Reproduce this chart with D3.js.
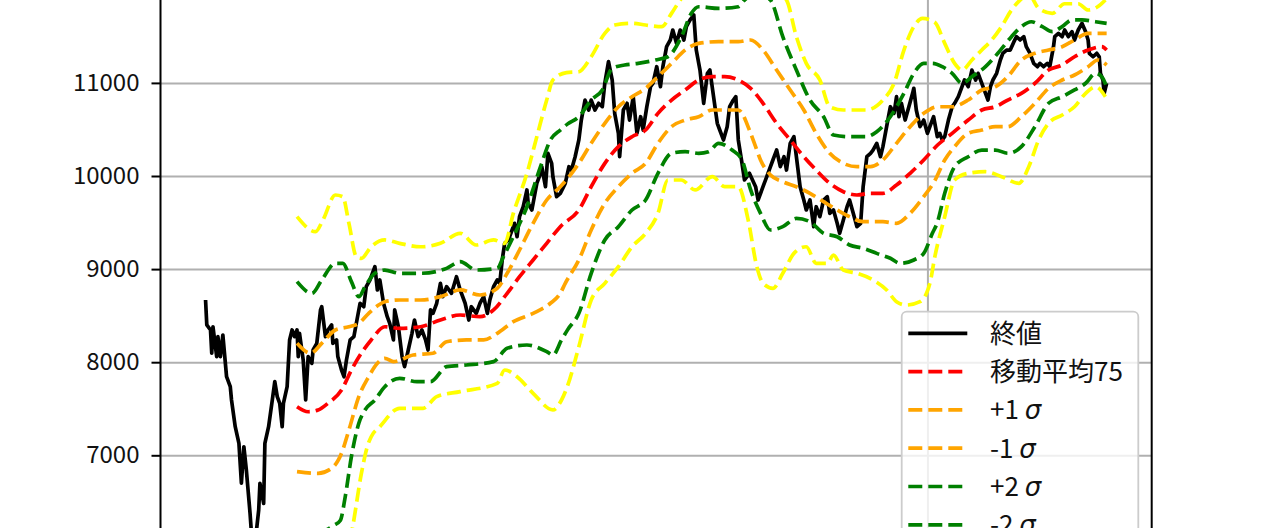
<!DOCTYPE html>
<html>
<head>
<meta charset="utf-8">
<script src="https://cdn.jsdelivr.net/npm/d3@7"></script>
<style>
  html, body { margin: 0; padding: 0; background: #ffffff; }
  svg { display: block; }
</style>
</head>
<body>
<script>
// ---------------- DATA (trading-day index, value) ----------------
const closeData = [
[0,8668],[1,8400],[4,8346],[5,8096],[6,8381],[9,8060],[10,8274],[12,8060],[14,8292],[17,7844],[20,7737],[21,7594],[24,7307],[27,7129],[29,6700],[31,7092],[33,6842],[36,6377],[38,6000],[40,6050],[43,6412],[44,6700],[47,6484],[48,7129],[51,7307],[54,7594],[56,7791],[58,7630],[60,7558],[62,7307],[63,7558],[66,7737],[68,8239],[70,8346],[72,8274],[74,8346],[75,8060],[76,8310],[79,8024],[81,7594],[83,8060],[86,7988],[87,8131],[90,8203],[93,8561],[94,8596],[97,8274],[99,8346],[102,8400],[103,8203],[106,8239],[107,8060],[110,7916],[112,7844],[114,8024],[117,8239],[120,8274],[122,8418],[125,8633],[128,8596],[130,8811],[133,8883],[134,8918],[137,9026],[139,8776],[141,8883],[144,8633],
[147,8489],[149,8418],[152,8239],[153,8561],[156,8381],[159,8060],[161,7952],[164,8131],[167,8310],[169,8453],[172,8274],[175,8346],[178,8239],[180,8131],[182,8561],[184,8525],[187,8633],[190,8847],[192,8704],[195,8811],[199,8740],[203,8918],[206,8776],[210,8633],[213,8453],[215,8596],[219,8525],[222,8633],[225,8704],[228,8525],[230,8668],[233,8811],[236,8883],[238,8847],[240,9098],[242,9277],[245,9313],[248,9420],[250,9492],[252,9348],[254,9563],[257,9670],[260,9850],[261,9707],[264,9635],[267,9850],[268,9921],[271,10029],[272,10100],[275,9885],[277,10244],[280,10136],[281,9993],[284,9778],[287,9814],[291,9921],[294,10100],
[296,10064],[299,10207],[302,10387],[304,10601],[307,10816],[310,10709],[312,10816],[315,10709],[318,10781],[321,10745],[323,10996],[326,11228],[329,11031],[331,10673],[334,10458],[335,10207],[338,10709],[341,10781],[343,10601],[346,10852],[349,10458],[352,10637],[354,10494],[357,10745],[360,10959],[362,10996],[365,11174],[368,10959],[370,11174],[373,11389],[376,11461],[378,11568],[381,11425],[384,11568],[387,11461],[389,11604],[392,11676],[395,11729],[397,11353],[400,11138],[403,10781],[406,11103],[408,11138],[411,10852],[414,10566],[416,10494],[419,10387],[422,10530],[424,10745],[427,10816],[429,10852],[431,10387],[434,10136],[436,9957],[440,10029],[445,9885],
[447,9742],[451,9885],[455,10029],[459,10172],[462,10279],[465,10100],[468,10207],[470,10064],[473,10351],[476,10422],[478,10207],[481,9885],[484,9742],[486,9635],[489,9742],[492,9456],[494,9670],[497,9563],[500,9742],[503,9778],[505,9599],[508,9635],[511,9492],[513,9384],[516,9527],[519,9670],[521,9742],[524,9599],[527,9456],[530,9492],[532,9885],[535,10207],[538,10244],[540,10279],[543,10351],[546,10207],[548,10315],[551,10530],[554,10744],[557,10673],[559,10852],[561,10637],[563,10781],[566,10601],[569,10744],[572,10888],[573,10942],[575,10709],[578,10530],[581,10601],[584,10458],[586,10530],[589,10637],[592,10422],[594,10458],
[596,10387],[598,10422],[601,10601],[604,10744],[606,10781],[609,10852],[612,10959],[614,11031],[617,10959],[620,11138],[623,11031],[625,11103],[628,10996],[631,10888],[633,10816],[635,10959],[637,11031],[640,11103],[643,11246],[645,11318],[648,11353],[651,11353],[654,11443],[656,11496],[659,11461],[662,11496],[664,11389],[667,11318],[670,11210],[673,11174],[675,11210],[678,11174],[681,11210],[683,11174],[686,11389],[687,11496],[690,11532],[693,11496],[695,11568],[698,11496],[701,11550],[703,11461],[706,11568],[709,11640],[712,11550],[714,11461],[715,11318],[718,11281],[721,11318],[723,11281],[724,11103],[726,11031],[727,10888],[729,10996]
];

const ma75 = [
[74,7522],[83,7468],[91,7486],[99,7558],[110,7701],[118,7916],[126,8096],[134,8239],[145,8381],[157,8364],[174,8381],[190,8453],[206,8507],[222,8489],[233,8561],[244,8740],[254,8918],[265,9098],[276,9277],[287,9456],[302,9635],[312,9885],[323,10136],[334,10315],[345,10422],[356,10494],[366,10673],[377,10816],[388,10924],[399,11031],[410,11067],[420,11067],[431,11031],[441,10942],[451,10781],[462,10566],[473,10387],[484,10207],[494,10064],[505,9921],[516,9831],[527,9796],[538,9814],[548,9814],[559,9903],[570,10029],[581,10172],[592,10330],[604,10458],[617,10601],[628,10709],[639,10744],[649,10816],[660,10888],[671,10996],[682,11138],[693,11192],[703,11281],[714,11353],[725,11389],[729,11353]
];

const plus1 = [
[74,8203],[85,8096],[94,8203],[105,8346],[116,8381],[124,8418],[132,8525],[140,8614],[145,8650],[157,8668],[174,8668],[190,8704],[206,8776],[222,8722],[236,8794],[244,8955],[254,9205],[265,9492],[276,9742],[287,9885],[293,9975],[302,10136],[312,10351],[323,10566],[334,10744],[345,10852],[356,10942],[366,11067],[377,11210],[388,11353],[399,11425],[415,11443],[431,11443],[441,11461],[451,11353],[462,11138],[473,10924],[484,10709],[494,10458],[505,10244],[516,10136],[527,10100],[538,10100],[548,10172],[559,10351],[570,10530],[581,10673],[592,10744],[604,10744],[617,10816],[628,10924],[639,10959],[649,11067],[660,11246],[671,11318],[682,11353],[693,11389],[703,11461],[714,11532],[725,11532],[729,11532]
];

const minus1 = [
[74,6824],[91,6806],[102,6860],[110,7022],[116,7272],[124,7630],[132,7844],[139,7988],[145,8042],[152,8006],[168,8077],[184,8096],[195,8220],[211,8239],[225,8239],[236,8310],[249,8435],[265,8525],[279,8633],[287,8740],[291,8847],[302,9098],[312,9420],[323,9707],[334,9885],[345,10029],[356,10136],[366,10351],[377,10530],[388,10601],[399,10637],[410,10709],[420,10709],[431,10709],[441,10458],[445,10315],[449,10172],[457,10011],[467,9939],[478,9885],[489,9814],[500,9724],[511,9635],[521,9563],[532,9509],[548,9509],[559,9492],[570,9599],[581,9778],[590,9950],[598,10172],[606,10315],[617,10458],[628,10494],[639,10530],[649,10530],[660,10637],[671,10781],[682,10942],[693,11031],[703,11085],[714,11174],[722,11246],[729,11192]
];

const plus2 = [
[74,8865],[86,8740],[94,8883],[105,9062],[111,9062],[118,8865],[124,8704],[129,8811],[137,8955],[145,8990],[157,8955],[174,8955],[195,9008],[206,9080],[219,8990],[236,9008],[241,9133],[249,9348],[260,9670],[271,10100],[279,10387],[287,10494],[293,10560],[302,10637],[312,10816],[321,10924],[329,11157],[339,11192],[350,11210],[364,11246],[374,11281],[385,11496],[393,11747],[399,11818],[415,11800],[431,11818],[436,11890],[447,11960],[457,11890],[467,11496],[478,11138],[489,10816],[500,10637],[508,10440],[521,10422],[534,10422],[543,10476],[554,10637],[565,10888],[573,11103],[581,11210],[588,11210],[596,11174],[604,11103],[612,10996],[620,11067],[631,11174],[641,11318],[652,11496],[660,11604],[668,11657],[677,11604],[685,11550],[693,11604],[701,11676],[709,11676],[720,11657],[729,11640]
];

const minus2 = [
[74,6180],[85,6170],[96,6190],[104,6250],[109,6300],[113,6555],[118,6985],[124,7344],[129,7487],[137,7594],[145,7737],[157,7827],[171,7791],[182,7791],[195,7952],[211,7970],[233,8006],[244,8149],[260,8185],[276,8113],[281,8077],[288,8239],[293,8350],[302,8525],[312,8955],[323,9313],[334,9456],[345,9635],[356,9742],[366,10029],[377,10244],[388,10261],[399,10244],[407,10261],[415,10351],[426,10279],[434,10172],[441,9850],[449,9599],[457,9420],[467,9456],[478,9545],[489,9509],[500,9384],[511,9348],[521,9259],[532,9223],[543,9169],[554,9116],[562,9062],[573,9098],[581,9169],[588,9384],[592,9500],[598,9814],[606,10100],[617,10207],[628,10279],[639,10279],[649,10244],[660,10315],[671,10530],[682,10781],[693,10852],[703,10924],[712,10996],[720,11103],[725,11067],[729,10959]
];

const plus3 = [
[74,9563],[89,9402],[95,9527],[105,9796],[111,9778],[116,9492],[122,9133],[126,9115],[134,9240],[145,9313],[157,9277],[174,9240],[190,9277],[206,9384],[219,9259],[233,9313],[242,9277],[249,9599],[260,10029],[268,10422],[276,10816],[281,11031],[292,11110],[302,11120],[312,11281],[323,11532],[331,11622],[345,11640],[356,11622],[369,11604],[377,11747],[384,11890],[400,12050],[430,12150],[455,12050],[470,11890],[478,11496],[486,11210],[497,11031],[505,10744],[516,10709],[534,10709],[548,10816],[557,10996],[565,11353],[573,11604],[580,11693],[590,11650],[598,11425],[606,11210],[612,11138],[620,11246],[628,11353],[636,11461],[644,11604],[652,11783],[659,11890],[666,11950],[674,11800],[685,11747],[695,11850],[706,11850],[714,11783],[722,11820],[728,11890]
];

const minus3 = [
[74,5300],[90,5350],[105,5500],[113,5850],[119,6230],[126,6800],[131,7100],[134,7200],[141,7307],[157,7505],[176,7505],[187,7630],[206,7684],[236,7773],[242,7916],[252,7844],[265,7666],[281,7487],[288,7594],[293,7750],[302,8167],[312,8668],[323,8847],[334,9026],[345,9240],[356,9384],[366,9599],[374,9957],[385,9957],[396,9850],[410,9993],[420,9885],[431,9885],[439,9527],[446,9026],[451,8847],[459,8794],[467,8955],[476,9169],[486,9240],[494,9062],[503,9062],[508,9151],[516,8990],[527,8955],[540,8883],[551,8776],[559,8650],[567,8614],[578,8650],[586,8847],[590,9133],[598,9563],[606,9957],[617,10029],[631,10046],[644,9993],[658,9921],[666,10100],[674,10387],[682,10566],[693,10655],[703,10744],[712,10888],[720,10959],[728,10852]
];

const yTicks = [7000, 8000, 9000, 10000, 11000];
const xTicks = [584];
const lastDay = 729;

const seriesNames = ["終値", "移動平均75", "+1 σ", "-1 σ", "+2 σ", "-2 σ", "+3 σ", "-3 σ"];
const seriesColors = ["#000000", "#ff0000", "#ffa500", "#ffa500", "#008000", "#008000", "#ffff00", "#ffff00"];
const legendVisibleRows = 6;   // rows below this fall outside the window

// ---------------- LAYOUT ----------------
const W = 1280, H = 528;
const plotLeft = 160.5, plotRight = 1151.7;
const plotTop = -10.2, plotBottom = 641.5;   // figure extends beyond the window

const svg = d3.select("body").append("svg")
  .attr("width", W).attr("height", H)
  .style("font-family", "'Noto Sans CJK JP', 'Noto Sans', sans-serif");

svg.append("rect").attr("width", W).attr("height", H).attr("fill", "#ffffff");

const pad = lastDay * 0.05;
const x = d3.scaleLinear().domain([-pad, lastDay + pad]).range([plotLeft, plotRight]);
const y = d3.scaleLinear().domain([5000, 12000]).range([plotBottom, plotTop]);

svg.append("clipPath").attr("id", "clip")
  .append("rect").attr("x", plotLeft).attr("y", -60)
  .attr("width", plotRight - plotLeft).attr("height", 800);

// grid
const gridY = svg.append("g").attr("transform", `translate(${plotLeft},0)`)
  .call(d3.axisLeft(y).tickValues(yTicks).tickSize(-(plotRight - plotLeft)).tickFormat(""));
gridY.select(".domain").remove();
gridY.selectAll("line").attr("stroke", "#b0b0b0").attr("stroke-width", 2);

const gridX = svg.append("g").attr("transform", `translate(0,${plotBottom})`)
  .call(d3.axisBottom(x).tickValues(xTicks).tickSize(-(plotBottom - plotTop + 60)).tickFormat(""));
gridX.select(".domain").remove();
gridX.selectAll("line").attr("stroke", "#b0b0b0").attr("stroke-width", 2);

// lines
const plot = svg.append("g").attr("clip-path", "url(#clip)");
const lineStraight = d3.line().x(d => x(d[0])).y(d => y(d[1]));
const lineSmooth = d3.line().x(d => x(d[0])).y(d => y(d[1])).curve(d3.curveMonotoneX);

const series = [closeData, ma75, plus1, minus1, plus2, minus2, plus3, minus3];
const LW = 3.7, DASH = "14,6";

series.forEach((s, i) => {
  plot.append("path")
    .attr("d", i === 0 ? lineStraight(s) : lineSmooth(s))
    .attr("fill", "none")
    .attr("stroke", seriesColors[i])
    .attr("stroke-width", LW)
    .attr("stroke-linejoin", "round")
    .attr("stroke-dasharray", i === 0 ? null : DASH);
});

// spines
svg.append("line").attr("x1", plotLeft).attr("x2", plotLeft).attr("y1", -20).attr("y2", H + 20)
  .attr("stroke", "#000").attr("stroke-width", 2);
svg.append("line").attr("x1", plotRight).attr("x2", plotRight).attr("y1", -20).attr("y2", H + 20)
  .attr("stroke", "#000").attr("stroke-width", 2);

// y axis ticks & labels
const yAxis = svg.append("g").attr("transform", `translate(${plotLeft},0)`)
  .call(d3.axisLeft(y).tickValues(yTicks).tickSize(9).tickPadding(12).tickFormat(d3.format("d")));
yAxis.select(".domain").remove();
yAxis.selectAll("line").attr("stroke", "#000").attr("stroke-width", 2);
yAxis.selectAll("text")
  .attr("fill", "#111")
  .style("font-size", "24px")
  .style("font-family", "'Noto Sans CJK JP', sans-serif");

// legend
const lgX = 901.7, lgY = 311.7, lgW = 236.6, rowH = 38.3, row0 = 333.3;
const legend = svg.append("g");
legend.append("rect")
  .attr("x", lgX).attr("y", lgY).attr("width", lgW).attr("height", rowH * seriesNames.length + 20)
  .attr("rx", 5).attr("ry", 5)
  .attr("fill", "#ffffff").attr("fill-opacity", 0.8)
  .attr("stroke", "#cccccc").attr("stroke-width", 1.8);

seriesNames.slice(0, legendVisibleRows).forEach((name, i) => {
  const cy = row0 + i * rowH;
  legend.append("line")
    .attr("x1", 908.3).attr("x2", 967.3).attr("y1", cy).attr("y2", cy)
    .attr("stroke", seriesColors[i]).attr("stroke-width", LW)
    .attr("stroke-dasharray", i === 0 ? null : DASH);
  const t = legend.append("text")
    .attr("x", 990).attr("y", cy).attr("dy", "0.36em")
    .attr("fill", "#111")
    .style("font-size", "26px");
  if (name.includes("σ")) {
    t.append("tspan").text(name.replace("σ", ""));
    t.append("tspan").text("σ")
      .style("font-family", "'DejaVu Sans', sans-serif")
      .style("font-style", "italic");
  } else {
    t.text(name);
  }
});
</script>
</body>
</html>
